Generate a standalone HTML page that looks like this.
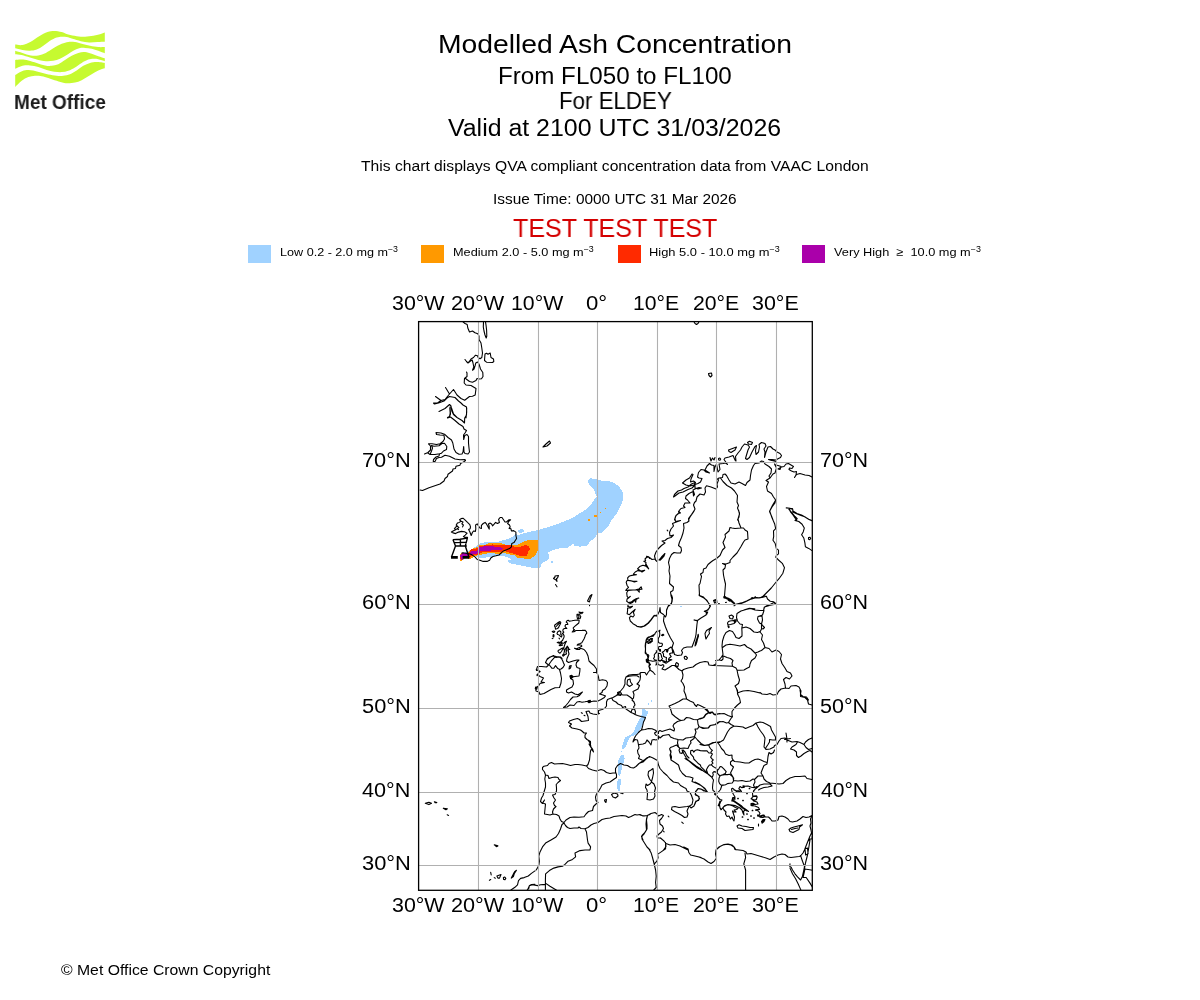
<!DOCTYPE html>
<html lang="en"><head><meta charset="utf-8"><title>Modelled Ash Concentration</title>
<style>
html,body{margin:0;padding:0;background:#fff;}
body{width:1200px;height:1000px;position:relative;overflow:hidden;font-family:"Liberation Sans",sans-serif;}
.t{position:absolute;white-space:nowrap;line-height:0;transform-origin:0 0;height:0;will-change:transform;}
.t .sp{font-size:70%;position:relative;top:-0.52em;line-height:0;}
svg{position:absolute;left:0;top:0;}
</style></head>
<body>
<svg width="1200" height="1000" viewBox="0 0 1200 1000">
<defs><clipPath id="fr"><rect x="418.6" y="321.6" width="393.7" height="568.7"/></clipPath></defs>
<g clip-path="url(#fr)">
<path fill="#a0d2ff" shape-rendering="crispEdges" d="M460.0,555.0L473.3,548.3L480.0,543.3L488.3,541.7L498.3,541.7L506.7,539.2L513.3,536.7L515.8,534.2L518.3,535.0L523.3,533.3L530.0,531.7L538.3,530.0L546.7,527.5L555.0,525.0L563.3,521.7L571.7,518.3L578.3,514.2L585.0,510.0L590.0,505.8L593.3,500.8L596.7,496.7L594.2,490.0L590.0,485.8L587.5,480.8L590.0,478.3L596.7,479.2L602.5,480.8L611.7,481.7L618.3,485.8L622.5,491.7L623.0,500.0L620.8,505.8L616.7,513.3L611.7,520.0L608.3,526.7L602.5,532.5L597.5,533.3L595.8,536.7L590.0,541.7L586.7,545.8L580.0,546.7L574.2,545.8L573.3,543.3L568.3,547.5L560.0,548.3L553.3,550.0L548.3,552.5L549.2,558.3L546.7,560.8L541.7,563.3L540.0,568.3L535.0,568.3L526.7,566.7L518.3,565.0L510.0,563.3L507.5,560.8L511.7,559.2L506.7,556.7L498.3,555.8L490.0,556.7L481.7,558.3L473.3,555.8L468.3,556.7L461.7,560.8L460.0,558.3Z"/>
<path fill="#a0d2ff" shape-rendering="crispEdges" d="M518.3,529.7L523.3,529.2L524.2,531.7L520.8,533.3L518.0,532.0Z"/>
<path fill="#a0d2ff" shape-rendering="crispEdges" d="M551.0,561.0L552.7,561.0L552.7,562.7L551.0,562.7Z"/>
<path fill="#ff9900" shape-rendering="crispEdges" d="M587.5,518.8L590.0,518.8L590.0,520.8L587.5,520.8Z"/>
<path fill="#ff9900" shape-rendering="crispEdges" d="M594.2,515.0L597.5,515.0L597.5,517.0L594.2,517.0Z"/>
<path fill="#ff9900" shape-rendering="crispEdges" d="M599.7,511.7L601.0,511.7L601.0,513.0L599.7,513.0Z"/>
<path fill="#ff9900" shape-rendering="crispEdges" d="M604.7,507.8L606.0,507.8L606.0,509.0L604.7,509.0Z"/>
<path fill="#a0d2ff" shape-rendering="crispEdges" d="M680.0,605.5L681.8,605.5L681.8,606.8L680.0,606.8Z"/>
<path fill="#a0d2ff" shape-rendering="crispEdges" d="M642.0,709.0L644.5,709.5L646.0,711.0L648.0,710.5L647.8,714.0L646.0,717.0L644.5,720.0L643.0,724.0L641.0,728.0L638.8,731.5L636.2,734.2L633.2,735.7L630.2,736.8L628.7,739.2L627.2,743.0L625.7,746.5L624.2,748.8L622.0,748.8L622.5,745.0L624.0,740.0L625.5,737.0L628.5,736.0L632.0,734.0L634.5,730.0L636.5,725.0L638.5,721.0L641.0,717.0L642.0,713.0Z"/>
<path fill="#a0d2ff" shape-rendering="crispEdges" d="M650.5,699.5L652.0,699.5L652.0,701.5L651.0,701.5Z"/>
<path fill="#a0d2ff" shape-rendering="crispEdges" d="M648.0,702.5L649.0,702.5L649.0,704.5L648.0,704.5Z"/>
<path fill="#a0d2ff" shape-rendering="crispEdges" d="M620.5,750.8L621.5,750.8L621.5,751.7L620.5,751.7Z"/>
<path fill="#a0d2ff" shape-rendering="crispEdges" d="M622.0,754.5L624.0,754.5L624.5,758.5L623.5,763.0L621.5,765.0L621.5,770.0L620.5,774.0L619.0,776.5L618.0,774.0L618.5,769.0L618.0,764.0L618.5,760.0L620.0,757.0Z"/>
<path fill="#a0d2ff" shape-rendering="crispEdges" d="M618.0,778.5L620.5,778.5L620.8,784.0L620.0,788.0L620.5,791.0L618.5,791.5L617.2,788.5L617.2,783.0Z"/>
<path fill="#ff9900" shape-rendering="crispEdges" d="M467.5,552.8L469.8,550.5L470.9,549.0L475.0,548.2L477.6,546.8L478.8,545.2L485.5,544.9L488.1,543.4L502.0,543.4L505.0,544.6L512.5,544.9L517.0,545.2L520.0,543.8L523.0,541.9L527.5,540.4L530.0,540.0L537.5,540.5L538.3,549.8L535.8,554.8L530.8,558.9L527.5,558.8L522.2,558.4L517.0,557.6L514.8,555.4L510.2,554.6L506.5,553.5L504.2,552.8L500.5,554.2L497.5,554.2L493.8,553.1L487.0,553.5L482.5,554.2L481.0,555.0L475.0,555.8L472.0,558.0L469.8,558.8L463.8,558.0L462.6,560.2L460.8,561.8L459.6,558.8L460.0,555.0L462.2,552.8Z"/>
<path fill="#ff2a00" shape-rendering="crispEdges" d="M468.2,553.1L470.1,550.9L471.2,549.4L478.0,548.1L479.1,546.0L487.0,545.2L493.0,544.4L497.5,545.4L505.0,545.4L511.0,545.4L517.0,547.3L523.0,546.1L525.6,544.9L528.6,546.0L530.1,548.6L528.2,552.0L526.8,555.8L520.0,555.8L515.5,554.2L511.0,553.1L507.2,552.0L504.2,551.1L500.5,552.4L496.0,552.4L490.0,551.9L485.5,552.1L481.0,552.6L479.9,554.2L475.0,554.9L471.2,555.9L469.8,558.0L463.8,557.6L462.6,559.5L461.1,560.6L460.4,558.8L460.4,555.4L462.6,553.4Z"/>
<path fill="#aa00aa" shape-rendering="crispEdges" d="M469.4,555.0L470.9,551.1L478.0,550.4L479.5,547.3L485.5,546.1L493.0,546.1L496.0,547.3L502.8,547.6L503.5,548.8L500.5,549.9L493.0,549.9L490.0,551.0L485.5,550.6L480.2,551.0L479.6,553.3L476.5,553.6L471.2,555.1Z"/>
<path fill="#aa00aa" shape-rendering="crispEdges" d="M460.4,555.4L462.2,553.1L469.0,553.4L469.4,555.0L469.0,556.5L463.0,556.9L462.6,559.1L461.4,560.4L460.6,558.8Z"/>
<path fill="none" stroke="#000" stroke-width="1.1" stroke-linejoin="round" stroke-linecap="round" d="M463.0,321.8L465.0,323.5L467.2,324.5L467.8,328.0L469.5,332.0L472.5,331.0L475.0,332.8L477.8,333.8L479.0,336.0L479.0,339.5L481.0,343.0L481.8,348.0L482.5,353.0L481.8,357.5L480.0,358.8L478.2,357.5L477.5,355.8L475.5,355.2L473.5,357.5L471.0,359.0L469.5,361.2L468.0,363.0L466.5,361.5L465.0,359.5M468.0,363.0L470.5,361.0L472.2,360.0L473.0,363.0L473.8,367.0L472.5,370.2L474.0,369.0L475.0,366.0L475.8,363.0L477.5,362.0L479.0,364.0L480.5,369.0L482.8,372.5L483.0,376.5L481.5,378.8L479.0,379.0L477.0,378.5L476.0,380.5L472.5,382.2L469.5,381.5L466.5,379.2L465.0,378.0L467.0,376.5L467.0,373.0L466.5,372.0M467.0,376.5L464.5,378.5L464.2,383.0L466.0,385.0L471.0,385.5L476.0,388.5L475.2,395.0L472.5,396.2L469.5,396.5L464.7,400.2L461.0,398.5L457.0,395.0L453.5,389.5L449.5,394.0L445.5,387.5M449.5,394.0L447.0,397.0L445.0,399.5L441.0,400.5L435.5,396.5M441.0,400.5L437.5,403.0L433.5,403.0L434.5,404.0L438.5,403.0L444.0,401.0L447.0,398.0L449.5,396.5L455.0,397.5L458.5,401.0L461.0,403.0L463.0,405.0L466.5,407.0L466.7,412.0L466.0,418.0M439.0,411.5L445.0,408.5L449.5,404.5L451.0,406.0L451.8,411.0L453.5,414.5L457.0,417.5M450.0,407.0L450.5,414.0L449.5,416.5L447.5,417.5M485.0,354.0L486.5,353.2L488.0,354.2L490.2,353.0L491.0,357.5L493.5,359.0L493.8,361.5L492.5,362.5L486.5,362.2L484.5,360.5L484.8,356.5ZM483.5,321.8L483.3,327.0L484.0,331.0L485.0,335.0L486.2,338.0L486.8,336.0L486.6,330.0L486.0,325.0L485.5,321.8M466.7,408.0L466.5,415.0L464.7,418.0L464.5,423.0L462.0,420.5L457.0,417.5L453.5,414.0L451.5,408.0M449.8,408.0L450.2,413.0L449.5,416.5L447.5,418.0L450.5,417.0L455.0,420.5L459.0,424.0L463.0,426.5L464.0,429.0L466.5,430.5L465.0,433.0L463.5,435.0L463.7,439.5L464.7,435.5L467.0,434.5L468.5,436.5L468.5,443.0L469.0,448.0L469.5,452.0L468.0,454.0L465.0,453.5L464.0,452.0L463.7,446.5L463.0,452.0L462.0,454.0L459.0,454.2L456.0,452.5L454.0,449.0L452.8,443.0L451.5,440.0L448.0,437.5L444.5,434.2L441.0,433.0L436.0,432.5L436.5,434.5L440.0,435.0L444.0,435.2L444.5,439.0L443.0,441.5L440.0,443.8L436.5,444.5L432.0,443.8L428.5,443.8L430.5,446.0L430.5,450.0L428.0,452.5L424.5,454.0M428.0,453.0L430.0,454.5L435.0,454.5L439.5,453.8L441.5,453.2L443.5,451.0L446.5,449.5L446.8,446.5L444.5,443.2L442.0,443.5L439.0,445.8L434.0,446.2L431.5,445.5L432.5,448.0L431.5,451.0L430.5,453.5M439.5,453.8L439.0,456.0L436.0,457.0L433.5,459.5L433.2,461.5L435.0,461.5L436.5,458.5L439.0,457.5L441.5,457.2L445.0,455.2L449.5,456.2L455.0,459.0L460.0,459.8L465.0,459.5L465.5,460.5L463.5,462.0L460.5,463.5L460.0,465.2L456.0,466.2L455.5,468.5L453.0,469.0L452.5,471.0L448.0,474.2L447.5,476.5L445.0,478.5L444.0,481.0L440.0,484.0L429.0,487.8L422.5,490.5L420.0,490.0M543.0,447.0L546.0,444.0L549.5,441.0L550.5,443.0L547.0,446.0ZM461.9,553.1L463.0,552.8L467.5,553.5L470.9,554.2L472.8,555.4L475.0,556.9L477.2,559.5L479.9,560.2L483.2,561.4L487.0,561.4L489.6,560.2L490.8,558.0L493.0,556.5L496.0,555.8L499.0,555.0L501.2,552.8L503.5,550.9L506.5,549.8L509.5,548.6L511.4,546.8L511.8,543.4L514.0,542.6L515.1,540.8L516.6,538.5L515.9,535.5L515.9,532.1L513.6,530.6L511.4,531.0L511.0,528.8L509.1,528.4L510.2,526.9L509.5,525.0L507.6,523.5L508.8,521.2L510.6,519.8L508.8,519.8L506.5,522.0L505.0,522.0L503.5,519.8L502.0,517.5L500.1,517.5L498.6,519.4L499.4,522.4L497.5,523.5L495.6,522.4L494.1,524.2L492.6,525.8L491.5,523.9L490.0,523.1L488.4,523.9L489.2,526.5L489.2,529.1L488.1,526.9L486.6,524.2L485.1,522.4L483.2,523.5L481.4,525.4L481.4,528.4L479.9,528.0L478.4,525.8L477.2,523.9L475.6,525.0L475.8,528.8L475.4,531.4L473.5,531.0L472.4,532.5L471.2,535.5L469.8,531.8L468.6,529.5L470.1,528.8L470.5,526.9L469.8,524.6L467.5,522.4L465.2,520.1L463.0,518.2L461.1,518.6L459.6,519.8L461.1,521.2L459.2,522.4L457.4,523.1L456.2,525.0L457.4,526.1L455.5,527.2L454.4,528.8L456.2,529.5L454.0,530.6L451.4,532.1L453.2,532.9L455.5,533.6L458.5,532.1L461.5,531.4L464.5,531.8L467.1,533.2L465.2,535.1L463.4,536.6L464.9,537.4L467.5,537.4M461.1,521.2L463.0,522.0L461.9,523.9L463.4,525.0L462.6,526.9M457.4,526.1L458.9,527.6L457.0,528.8L458.5,529.6M555.0,576.0L558.5,575.5L557.5,578.0L556.5,578.5L557.0,581.5L556.0,580.0L553.5,578.5L555.0,577.0ZM555.5,584.5L557.0,586.8M592.0,594.5L591.0,597.0L590.0,599.5L589.5,602.0L587.5,601.0L589.0,598.0L590.0,596.0ZM589.5,605.2L589.6,605.8M547.0,659.5L550.0,657.0L553.5,656.0L556.5,656.5L560.5,657.0L562.0,658.5M655.0,634.0L651.5,636.0L648.0,638.0L646.0,641.0L645.5,646.0L645.5,652.0L647.5,656.0L648.5,660.0M648.0,640.0L651.0,639.0L652.5,641.0L650.0,643.0L647.5,642.5M563.5,663.0L564.5,665.0L563.0,667.5L561.0,669.0L559.5,669.5L560.5,673.0L561.5,678.5L561.0,683.0L559.5,687.5L555.0,687.8L551.0,689.5L547.5,691.5L544.0,693.5L540.0,694.5L539.0,692.0L536.0,691.0L535.5,688.0L538.5,686.0L540.0,683.5L544.5,682.5L541.0,682.0L543.5,678.0L540.0,676.5L537.5,674.5L539.5,671.5L536.5,669.5L537.5,666.5L541.5,666.5L546.5,667.0L548.5,665.0L545.5,662.5L547.5,658.5L550.5,657.0L553.5,655.5L556.0,657.5L559.5,657.0L561.5,658.5L563.0,661.5ZM549.0,664.5L551.8,668.2L553.8,668.3L555.5,665.6L557.8,668.6L559.7,669.5M555.0,656.8L551.2,661.2L549.2,664.0M568.0,650.0L569.0,654.0L567.0,658.5L566.5,661.0L568.5,662.5L573.0,661.0L577.0,660.0L579.0,660.0L576.5,662.5L576.0,665.0L577.0,667.5L580.0,668.5L579.8,671.5L579.0,676.0L575.0,676.5L572.0,677.0L570.5,676.0L570.5,678.5L573.0,680.0L573.5,684.0L572.0,687.0L569.0,688.5L566.5,690.0L566.5,692.0L568.5,693.0L571.5,692.0L575.0,694.0L578.0,694.8L582.5,692.0L579.5,695.5L577.0,696.8L573.0,697.0L570.5,699.5L568.0,703.0L565.5,706.0L563.5,707.5L567.0,707.0L570.0,705.0L574.0,705.5L577.0,702.0L579.5,701.5L582.0,702.2L585.0,701.8L589.0,701.0L589.5,702.0L594.0,701.0L597.5,701.2L601.0,699.5L604.0,697.8L605.5,696.0L603.0,695.0L599.5,694.0L602.0,692.5L602.5,690.5L605.0,689.0L607.0,686.0L607.5,682.5L606.0,680.5L602.5,679.8L599.0,680.5L598.5,677.0L597.5,674.0L596.5,672.5L593.5,672.5L596.5,672.5L596.5,669.0L594.0,665.5L591.0,663.0L589.0,661.0L588.0,656.0L586.5,652.5L584.5,650.0M569.5,666.0L571.2,665.5L570.5,668.0L569.0,669.0ZM581.6,712.8L582.2,713.3M584.0,715.2L585.0,715.7M645.0,672.5L641.0,672.5L639.5,674.0L637.0,674.5L633.0,674.5L629.0,675.0L626.0,677.0L625.0,680.0L625.0,684.0L623.5,687.5L621.0,690.5L619.0,693.0L616.5,695.5L613.0,697.5L610.0,698.5L607.5,699.5L606.5,702.0L606.5,706.0L605.0,708.0L602.0,709.5L598.5,710.5L598.5,713.5L599.5,713.5L596.5,714.5L593.0,714.0L590.0,713.0L589.0,711.0L586.0,711.5L587.0,714.0L588.0,716.5L588.5,720.5L585.0,721.0L581.5,721.5L579.5,719.5L577.5,718.5L573.5,719.5L569.5,721.0L568.5,722.5L571.5,724.0L569.5,726.0L572.0,728.0L577.0,729.0L580.5,730.0L582.5,731.5L584.0,733.0L586.5,733.0L585.0,735.0L585.0,737.5L587.0,739.5L590.5,741.5L590.5,744.0L589.0,744.0L591.0,747.5L593.0,750.0M627.5,680.0L630.0,679.0L630.5,682.0L632.5,684.5L629.5,686.5L627.0,684.5ZM626.0,677.0L629.0,676.2L633.0,675.8L637.0,675.8L639.0,677.0M645.0,558.9L645.6,560.7L643.8,561.2L646.0,562.5L645.6,565.2L648.7,568.8L646.0,566.1L642.9,565.2L639.7,566.6L637.5,568.8L639.7,570.2L642.0,572.0L644.7,570.2L641.1,571.1L637.9,570.6L635.2,572.0L633.4,574.2L636.6,574.7L633.0,575.1L629.4,576.0L627.6,577.8L628.0,580.5L631.6,581.0L634.3,581.9L637.0,581.2L633.0,581.4L629.8,580.5L627.1,580.5L626.2,582.3L627.1,585.5L628.5,587.3L626.7,589.1L625.8,590.4L628.5,590.4L633.0,590.0L637.0,589.7L639.3,592.2L639.1,589.5L642.0,589.1L641.1,586.8L638.8,589.1L635.7,589.8L632.1,590.0L628.5,590.0L626.7,592.7L627.1,596.3L628.5,598.1L630.3,596.3L627.1,599.0L626.7,601.2L628.5,602.6L631.2,602.1L633.9,599.9L636.6,598.5L638.8,598.1L636.1,599.4L635.7,602.1L634.3,599.9L632.5,602.6L630.3,603.5L628.5,604.4L627.6,606.2L629.8,607.1L632.5,606.2L630.3,608.0L627.6,608.0L627.6,610.7L627.1,613.8L629.4,614.7L632.1,612.0L635.2,609.3L633.4,612.5L634.3,615.2L633.0,617.0L630.7,616.1L629.4,617.9L630.3,621.0L633.0,623.7L636.1,625.5L637.0,626.4L641.1,627.1L644.7,626.0L648.3,623.3L651.0,620.1L653.7,616.5L655.0,615.2L656.4,616.1M659.1,559.8L660.9,558.5L662.7,555.8L664.9,553.5L664.0,556.2L661.8,558.5L660.0,560.3ZM646.5,556.2L648.7,556.7L649.6,558.5M568.5,650.0L568.5,649.5L569.8,649.5L568.5,648.8L568.5,647.8L567.2,646.2L565.8,648.2L565.0,650.0L564.2,652.0L563.8,654.0L562.5,655.2L563.2,656.2L565.0,654.5L566.5,654.0L566.0,652.5L566.5,650.5L567.0,648.5L567.2,646.2M564.2,646.5L564.8,644.5L565.5,643.0L566.5,641.2L565.0,642.0L563.8,643.2L561.5,643.0L561.0,641.5L562.5,640.5L563.0,639.2L563.8,637.8L564.2,636.0L563.5,634.5L562.5,633.5L563.8,632.2L562.8,631.0L563.2,629.2L564.5,628.5L566.8,628.5L565.5,627.2L565.0,626.0L565.8,624.5L567.8,624.5L567.5,623.2L566.2,622.0L567.0,620.8L568.2,620.2L569.5,621.2L572.0,620.8L575.0,620.2L578.0,620.0L579.2,620.5L578.8,623.0L577.0,624.5L575.0,626.2L573.2,627.8L573.5,629.2L574.5,629.8L573.0,631.0L572.2,632.0L574.0,631.8L576.0,630.5L579.0,630.5L582.0,630.4L585.0,630.2L586.5,631.8L586.8,633.2L585.5,634.8L584.8,637.0L584.0,639.0L582.8,641.0L581.8,642.8L580.2,643.5L578.0,644.2L577.2,645.2L579.5,644.8L581.5,645.2L581.8,646.2L580.0,647.2L578.2,648.0L577.0,648.8L574.5,648.2L577.0,649.5L579.8,649.5L580.0,648.2L582.0,648.8L584.0,649.5L585.5,651.2M564.2,646.5L563.8,648.5L564.2,650.0M558.2,650.5L560.0,649.5L562.0,648.2L563.5,647.8L562.5,649.5L561.5,651.5L560.0,653.2L558.8,652.5L558.0,651.5ZM557.2,642.5L558.8,642.0L560.0,643.0L561.0,641.5L562.2,642.8L561.5,644.0L562.5,645.2L560.0,645.8L559.2,645.2L560.5,644.5L560.2,643.5L558.5,643.0ZM557.0,633.5L557.8,631.8L559.5,630.8L560.8,631.8L560.8,634.5L562.0,635.2L561.5,637.0L560.0,636.0L559.0,634.8L557.5,634.5ZM559.0,638.2L559.6,638.8M554.8,625.0L556.5,623.8L558.5,622.2L560.0,621.5L560.8,622.5L560.2,624.2L559.2,626.0L558.5,627.8L556.8,628.8L555.5,629.2L555.2,627.2L554.5,626.0ZM556.2,626.5L557.5,625.0L559.5,623.0M552.2,631.5L553.8,631.0L554.8,631.5L554.0,632.5L553.0,632.2ZM553.2,634.5L554.0,635.0L553.8,637.0L553.0,636.5ZM552.2,638.6L553.0,638.3M577.0,614.2L579.0,614.2L580.8,616.5L580.0,618.8L577.5,618.8L577.0,616.5ZM578.0,615.0L579.0,616.5L578.5,618.2M579.0,612.0L581.0,612.5L583.0,612.2L582.0,613.5L580.5,613.8ZM645.0,672.5L646.5,675.0L648.0,672.5L650.0,670.0L649.0,666.5L649.5,663.0L647.0,661.0L646.5,660.0M650.0,670.0L653.0,672.0L655.0,674.5M657.5,660.0L658.0,664.5L661.0,665.5L663.0,664.5L664.0,666.0L662.0,669.0L665.0,670.0L669.0,667.5L672.0,665.5L674.5,665.5L677.0,667.5L679.0,669.5L682.0,671.0L683.5,669.5L688.0,668.0L693.0,667.0L696.0,664.5L700.0,662.5L705.0,661.5L708.0,662.0L709.0,665.0L713.0,665.5L716.0,664.0L716.5,660.0M676.5,662.5L678.5,664.0L678.0,666.5L676.0,666.0L675.5,664.0ZM682.0,671.0L683.0,675.0L682.5,678.5L681.0,681.0L683.0,683.5L684.5,687.0L684.0,691.0L685.5,694.5L686.5,698.5M686.5,699.0L683.0,699.0L679.0,701.5L675.0,703.5L671.5,705.0L669.0,706.0L670.0,707.5L671.0,710.5L672.0,714.0L675.5,717.0L679.0,719.5L681.0,720.5M686.5,699.0L690.0,701.0L693.5,702.5L694.5,704.5L696.5,706.5L697.5,704.5L700.0,705.5L702.0,706.5L705.0,708.0L707.5,710.0L709.0,712.5L712.0,712.0L714.0,714.5L716.5,714.0L720.0,713.5M681.0,720.5L684.0,720.0L686.5,717.5L690.0,718.0L693.5,719.5L697.5,719.8L700.0,718.5L704.0,717.5L706.0,714.5L708.5,713.0L710.0,712.5M697.5,719.8L698.0,724.0L699.0,726.5L697.5,729.0L695.0,729.0L696.0,732.0L694.5,736.5M699.0,726.5L703.0,728.5L708.5,728.0L710.5,725.5L716.0,724.5L720.0,721.5M681.0,720.5L677.5,721.5L674.0,724.0L673.0,726.0L674.5,729.0L674.0,731.0L670.0,729.0L665.0,730.5L662.0,731.5L660.0,730.5L658.5,731.5L658.5,733.5M658.5,736.0L660.0,738.0L663.0,735.5L669.0,734.5L670.5,737.0L674.0,738.5L678.0,739.5L683.0,740.0L686.0,738.0L690.0,737.5L694.5,736.5M641.5,730.0L645.0,729.5L648.5,728.5L652.0,728.8L655.0,730.0L657.0,731.5L654.5,733.0L655.5,735.0L658.5,736.0L658.5,739.0L656.0,740.0L654.0,739.5L652.0,740.0L651.0,745.0L649.0,742.0L647.0,740.0L645.5,743.0L643.0,744.0L639.5,744.5L638.5,745.0L637.5,740.0L635.0,739.5L633.0,742.0L633.5,740.0L635.5,736.0L638.5,732.5L640.0,731.0ZM635.0,714.5L637.5,715.5L641.0,716.5L645.5,717.5L644.5,720.0L643.5,722.0L642.5,726.5L641.5,730.0M638.5,745.0L639.0,748.0L637.5,750.5L638.0,753.5L639.5,756.0L638.5,758.5L642.0,760.0M640.0,673.0L640.5,676.5L640.0,680.0L638.5,682.5L637.0,684.0L639.5,685.5L638.0,689.0L635.0,690.5L633.0,691.5L634.0,694.5L633.5,698.0L632.0,700.0L634.0,702.0L635.0,705.0L633.5,707.0L634.5,709.0L635.5,712.0L635.0,714.5M616.5,695.5L620.0,694.0L623.0,695.0L627.0,695.0L630.0,697.0L632.5,699.0M612.0,698.5L613.0,700.5L616.0,702.0L618.0,704.0L621.5,705.5L622.5,707.5L625.5,706.5L626.0,709.0L629.0,711.0L631.0,712.5L632.0,709.5L634.5,709.0M631.0,712.5L633.5,713.5L635.0,714.5M617.5,692.5L620.0,691.5L621.5,693.5L620.5,695.5L618.0,695.0ZM678.0,739.5L677.5,743.0L678.5,747.0L680.0,748.5L684.0,748.0L688.0,748.5L689.5,745.0L691.0,743.0L690.5,741.0L694.0,738.5L694.5,736.5M694.5,736.5L697.5,740.0L701.0,743.5L704.5,745.5L708.5,745.0L713.0,743.0L716.0,742.0L720.0,742.5M680.0,748.5L679.0,750.0L680.0,753.0L682.0,753.5L683.0,750.0L685.0,752.0L687.0,756.0L689.0,758.0M680.0,748.5L676.5,745.0L673.0,746.5L670.5,747.5L669.5,749.0L671.0,751.0L670.5,754.0L671.5,757.0L671.0,760.0M674.5,520.0L675.5,516.5L678.0,513.5L680.5,513.0L678.5,511.5L681.0,508.5L685.0,507.5L683.5,506.0L685.0,503.0L690.0,503.0L687.5,500.0L685.5,498.5L686.0,496.0L689.0,493.5L693.0,491.5L693.5,496.0L694.5,494.5L693.0,490.0L696.0,488.5L699.0,487.5L701.5,488.0L698.0,489.0L695.0,488.0L695.0,484.5L698.0,483.5L700.5,482.0L702.0,478.5L699.0,478.0L697.5,477.0L698.5,472.5L701.0,469.5L704.0,470.0L706.0,472.0L709.5,473.0L705.0,470.0L707.0,466.0L709.5,463.5L711.5,465.0L714.0,465.5L714.0,471.5L715.0,467.0L716.5,464.0L718.0,472.0L720.0,469.5L719.0,464.0L723.0,463.5L726.0,463.0L727.5,464.5L724.0,459.5L725.0,458.0L729.0,457.0L733.0,455.5L735.0,460.0L736.0,461.0L735.5,456.5L738.0,453.0L740.5,450.0L742.0,447.0L744.5,444.0L748.0,445.0L749.5,447.0L748.0,450.0L746.5,455.0L745.5,458.5L747.0,459.5L749.5,457.5L752.0,452.0L755.0,446.5L756.5,445.5L755.5,450.5L756.0,454.5L758.5,452.0L759.5,447.0L759.0,444.5L761.5,442.5L765.0,443.5L766.0,446.0L764.0,449.0L765.0,452.0L764.5,457.5L766.0,452.0L768.0,447.0L770.5,446.5L773.0,449.0L775.0,450.0M673.5,497.0L674.5,494.5L678.0,491.0L681.5,490.0L684.0,488.5L688.0,487.0L691.5,484.0L695.0,482.5L695.0,485.0L692.0,488.0L688.0,489.5L683.0,492.0L679.0,493.0L675.0,496.0ZM682.5,483.0L686.0,480.0L689.5,478.0L692.0,474.0L693.0,474.5L691.0,479.0L690.5,482.0L693.5,481.0L695.5,482.5L694.0,485.0L690.0,486.0L686.0,485.0ZM728.5,450.0L732.5,448.5L736.5,447.0L735.0,450.0L731.0,452.5L729.0,451.5ZM747.5,442.5L749.5,441.2L752.5,442.5L751.5,444.5L748.5,444.0ZM710.0,457.5L711.0,461.0L712.5,458.0L714.0,460.0L715.0,457.5M718.5,458.5L719.8,458.0L720.7,459.0L720.0,460.3L718.7,460.0ZM688.5,520.0L690.0,517.0L693.5,512.0L695.0,509.0L693.5,505.0L694.5,502.5L696.0,501.0L697.0,497.0L700.0,494.0L704.0,495.0L705.5,492.0L705.0,488.0L706.5,485.8L711.0,487.0L716.0,489.0L717.5,487.0L717.0,484.0L718.5,480.0L717.5,479.0L719.0,478.0L722.5,477.5L723.0,474.5L725.0,474.0L726.5,475.5L729.0,480.0L731.0,483.0L735.0,484.0L739.0,482.0L742.0,483.5L745.5,485.5L747.0,482.5L750.0,480.0L750.5,475.5L751.5,470.0L753.5,465.5L755.0,463.5L759.0,463.0L761.5,461.0L763.5,461.5L765.0,464.0L769.0,466.5L771.5,469.0L771.0,473.0L769.0,476.0L770.0,478.0L773.0,474.0L775.0,473.0M720.5,478.0L723.0,481.5L727.0,485.5L731.5,488.0L734.5,491.0L737.5,495.5L737.0,502.0L738.5,505.5L737.5,508.0L739.5,513.0L739.0,517.0L737.5,520.0M770.0,478.0L766.0,480.5L768.5,482.0L766.5,486.5L767.5,491.0L771.5,493.5L773.5,497.0L775.0,499.0M775.0,503.0L772.0,507.0L769.5,511.5L771.5,516.0L773.0,520.0M768.5,459.5L771.5,460.5L775.0,461.0M775.0,450.0L777.0,452.0L780.0,453.5L781.5,455.5L780.5,457.5L777.5,459.0L776.0,460.0L772.0,459.5L768.5,459.5L772.0,460.5L776.0,461.5M774.5,464.0L775.5,465.0L778.0,465.5L781.0,466.5L780.0,469.5L778.0,469.0L781.5,467.0L784.0,466.5L786.0,464.0L788.5,463.5L791.0,465.0L793.5,466.5L792.0,468.5L789.5,468.0L789.0,469.5L791.5,471.0L794.0,472.0L796.5,471.5L796.0,475.0L794.5,477.5L796.5,474.5L800.0,473.5L805.0,475.0L809.0,475.5L812.0,477.0M775.0,473.0L776.5,468.0L775.0,465.0M775.0,499.0L775.6,500.2L775.0,503.0M786.5,508.0L789.5,508.5L792.5,508.5L793.0,511.0L797.0,513.5L801.5,515.0L805.0,517.0L809.0,519.5L812.5,521.0M789.5,509.0L790.5,512.0L793.0,515.0L795.0,518.0L796.5,520.0M679.5,510.0L678.5,513.5L676.0,515.5L675.0,518.5L675.5,521.5L680.5,520.5L675.0,522.5L672.5,523.5L673.5,526.0L671.0,529.0L669.5,532.5L670.0,536.0L673.5,535.0L671.0,537.5L667.5,538.5L665.0,540.5L662.0,541.0L665.0,543.0L661.5,545.5L658.5,548.5L656.0,552.0L654.5,556.0L655.5,560.0L657.0,561.5L655.0,559.0L652.0,559.5L649.5,557.5L647.0,557.0L645.0,559.0M659.0,560.0L661.5,557.0L664.5,554.0L663.5,556.5L660.5,559.5ZM646.0,564.0L648.5,568.5M667.2,530.2L667.8,530.8M694.5,510.0L691.5,514.5L688.5,518.5L689.0,521.0L687.0,522.5L683.5,523.5L684.0,528.0L683.0,533.0L681.5,537.5L679.5,542.0L678.5,545.5L681.0,547.5L681.5,550.5L680.5,553.0L677.0,553.0L674.0,552.5L671.5,554.5L669.5,558.5L668.5,562.5L669.5,567.0L669.0,571.0L670.0,576.0L669.5,583.5L673.5,587.0L673.0,590.5L670.5,592.0L671.0,595.5L672.0,599.0L671.5,603.5L668.5,605.5L666.5,610.0M738.5,510.0L739.5,514.0L738.0,519.0L739.0,523.0L741.0,528.0M741.0,528.0L735.0,528.5L732.0,528.0L730.0,527.5L729.0,531.0L725.0,534.5L725.5,537.0L723.0,542.5L725.0,547.5L722.5,550.0L720.0,555.5L716.5,558.5L713.0,560.5L711.0,562.0L708.0,564.5L706.0,568.0L703.5,569.0L703.0,572.5L700.5,574.0L701.5,576.5L700.0,583.5L699.0,585.0L699.5,595.5L703.5,597.0L706.5,600.5L709.0,603.5L710.5,606.0L709.0,608.5L707.5,610.0M741.0,528.0L743.5,528.0L745.0,530.0L747.5,531.5L748.0,539.0L745.0,540.0L743.5,542.0L741.0,546.5L737.0,553.0L733.0,557.0L730.0,560.5L730.0,562.5L726.0,564.0L722.5,563.5L725.5,565.0L725.0,568.0L723.0,570.0L723.5,575.0L724.5,580.0L725.5,584.0L725.0,590.0L724.5,596.0L724.0,598.0L728.0,598.5L731.0,600.5L734.0,602.5L735.0,604.5L740.0,604.0L745.0,602.0L750.0,599.5L755.0,598.0L760.0,598.0L765.0,595.0M713.5,600.5L715.5,599.5L716.5,601.5L714.5,602.5ZM718.5,603.5L719.5,603.7M725.5,602.5L726.5,602.2M734.0,605.8L735.0,605.5M775.7,500.0L772.4,505.5L769.7,511.0L771.9,517.6L774.6,523.7L775.7,528.6L773.5,530.8L773.7,536.3L773.0,540.2L775.2,543.5L776.3,548.4L778.5,550.1L778.5,553.9L776.3,555.6L775.7,557.2L778.5,560.0L782.3,563.3L784.5,567.7L782.9,573.2L779.0,578.7L775.7,582.5L771.3,588.0L765.8,593.5L762.0,597.4M735.0,604.5L741.6,602.9L747.1,600.7L751.5,598.5L754.8,597.4L758.7,597.7L762.0,597.4L766.4,596.3L767.5,599.0L770.2,601.2L773.5,601.8L776.3,604.0L774.1,604.5L770.2,605.1L766.9,605.6L764.2,607.3L763.6,610.0M743.8,610.0L749.3,608.4L754.8,608.9M786.2,507.9L790.0,508.3L792.8,509.4L792.8,512.1L796.6,513.8L801.0,515.4L805.4,517.1L808.7,519.3L812.0,520.4M788.9,509.4L792.2,513.2L795.0,516.5L797.2,518.7L795.0,520.4L798.8,521.5L802.1,524.2L804.3,528.1L803.2,531.9L801.6,534.7L803.8,538.0L804.9,542.9L805.4,546.8L808.7,548.4L812.0,550.6M808.5,537.6L810.0,537.2L810.7,538.5L809.8,539.6L808.5,539.2ZM694.0,321.8L695.0,323.5L696.5,324.5L698.0,323.5L699.0,321.8M708.5,373.5L711.5,373.0L712.0,375.5L710.5,377.0L709.0,375.5ZM640.0,627.0L644.0,626.0L647.5,623.5L651.0,619.5L654.0,615.5L656.0,616.0L658.0,614.0L659.5,611.0L660.0,607.5L660.5,612.5L663.5,614.5L665.5,617.0L666.5,614.5L666.5,610.5L668.0,606.5L670.0,605.0L672.0,602.0L672.5,598.0L671.5,595.0M664.5,615.5L664.0,616.5L663.5,621.0L665.5,627.0L668.0,633.0L670.5,638.0L673.5,643.0L672.5,646.0L672.0,648.0L673.5,651.0L674.5,654.5L677.5,655.5L681.5,655.0L682.5,652.5L681.5,650.5L683.5,648.0L687.0,647.0L692.0,647.0L693.5,643.0L695.0,639.0L696.0,634.5L696.5,629.0L697.0,624.0L697.5,621.0L694.0,620.0L697.5,620.5L701.0,618.0L706.0,615.0L707.0,612.0L704.5,611.5L708.0,610.0L710.0,606.5L709.0,604.0L707.0,600.5L704.0,598.0L700.0,596.0L699.0,595.0M711.5,627.5L709.0,629.0L706.5,630.5L705.0,633.5L705.5,637.0L706.0,639.0L708.0,635.5L709.5,633.5L709.0,631.0ZM715.5,660.5L719.0,660.0L721.5,657.0L723.0,654.5L722.5,650.5L722.0,646.0L722.5,641.0L724.0,636.0L726.0,632.5L729.5,630.5L732.5,631.5L734.5,634.5L736.0,637.5L739.0,638.5L742.0,636.0L742.0,632.0L741.8,628.0L742.5,624.5L740.0,624.0L737.5,621.0L736.5,617.5L737.0,613.5L741.0,611.0L746.0,609.5L750.5,608.5L755.0,610.0L760.0,610.5M721.5,657.0L723.0,656.0L723.0,659.0L721.5,660.5L719.5,660.0M728.5,621.5L730.0,621.0L733.5,620.5L736.0,621.5L734.0,623.5L730.5,624.5L728.0,625.0L727.5,623.0ZM729.0,616.0L731.5,615.0L733.5,616.5L732.5,619.0L730.0,618.5ZM728.2,626.8L728.8,627.4M713.5,665.5L720.0,665.8L732.5,666.2L732.0,663.0L733.0,660.5L730.5,658.5L727.0,657.5L723.5,656.0M722.5,647.5L726.0,645.0L730.0,644.2L735.0,645.0L740.0,646.0L744.5,644.5L747.0,647.0L751.0,649.0L755.0,653.0L756.5,655.0L755.0,658.0L751.5,660.5L750.0,664.0L749.5,667.0L746.5,668.5L744.0,670.0L740.0,670.2L737.0,670.0L736.0,668.0L732.5,666.2M742.0,628.0L746.0,627.0L750.0,628.5L754.0,632.0L757.5,632.5L760.0,631.5M755.0,653.0L758.0,652.0L760.0,651.0M737.0,670.0L738.0,675.0L739.5,680.0L738.5,683.5L735.0,686.0L736.5,688.5L737.5,692.0L738.0,695.0M723.5,597.0L727.0,598.5L730.0,600.0L732.0,602.0L734.5,604.0M725.0,596.5L728.5,599.5L731.5,600.5M714.0,601.0L716.5,599.5L717.0,602.5L714.5,603.0ZM760.0,610.5L763.5,610.5L764.5,607.0L769.5,605.5L771.0,604.0L774.0,602.5L776.0,604.5M764.0,610.5L762.5,615.0L758.0,616.5M758.0,616.5L762.0,616.0L762.5,620.0L761.5,624.0L759.5,623.0L757.5,619.0ZM761.5,624.0L763.0,626.0L764.5,627.5L763.0,629.0L761.5,628.5ZM761.5,629.0L760.0,632.0L762.5,635.0L761.5,639.5L763.5,643.0L765.0,647.5M760.0,651.0L761.5,650.5L765.0,647.5M765.0,647.5L769.0,648.5L772.0,652.0L776.0,650.0L779.0,651.5L781.5,654.5L780.5,659.0L782.0,663.5L785.0,668.0L787.0,671.5L790.5,673.0L792.0,676.0L789.5,679.0L786.0,677.5L783.5,679.5L785.0,684.0L785.5,688.0M760.0,692.5L762.0,694.0L767.0,694.5L770.0,693.5L773.0,695.0L777.0,694.5L778.5,691.5L781.0,689.0L785.5,688.0L789.0,688.5L791.0,686.0L796.0,685.5L799.0,687.0L801.0,691.0L800.5,694.5L803.0,696.5L806.5,697.0L808.5,700.0M660.0,630.2L658.8,631.0L656.8,631.2L655.5,632.8L654.2,634.8L653.2,636.2L650.8,636.5L648.5,637.0L647.0,638.2L646.0,640.2L646.2,642.0L645.5,642.8L645.2,646.0L645.5,649.0L645.2,653.0L646.2,654.0L647.8,654.5L648.8,655.5L648.5,657.5L647.2,659.0L646.2,660.0L646.5,662.0L648.8,663.0L650.5,664.5L648.8,666.2L650.0,667.5L650.2,670.0M646.2,659.5L647.5,660.0L648.2,661.2L647.0,662.2ZM646.2,642.0L647.5,641.5L649.2,641.0L650.0,639.2L651.0,638.2L652.5,638.5L652.2,640.0L651.8,641.2L650.8,641.0L649.8,642.2L648.5,643.5L647.2,642.5ZM660.0,630.2L659.5,631.5L659.8,634.0L659.5,636.5L658.5,638.0L658.2,640.0L658.5,642.5L660.0,643.2L662.0,643.2L662.5,644.8L661.5,646.5L659.5,646.5L658.2,647.2L658.5,649.0L657.2,651.0L656.2,650.8L656.8,652.0L655.2,653.5L654.2,655.0L654.5,657.0L653.5,658.5L654.8,660.0L656.2,660.0L656.5,661.0L655.0,661.0L652.5,661.2L650.8,660.8L649.0,660.8L647.5,661.0M661.5,635.2L663.0,634.2L663.8,635.0L662.5,635.8ZM659.5,649.2L660.5,649.5L660.5,651.2L659.5,651.0ZM658.2,653.2L660.5,653.5L661.2,655.0L661.8,657.5L662.5,658.5L661.2,660.0L660.2,661.2L658.8,660.5L658.2,659.0L658.8,658.0ZM662.2,652.2L664.0,651.2L665.2,649.5L667.0,649.5L668.0,650.5L667.2,652.2L666.2,651.0L668.8,648.5L671.0,647.0L672.0,648.5L672.5,651.0L672.8,653.0L671.2,653.0L669.5,653.8L670.2,655.2L671.2,656.5L670.0,657.5L668.8,658.5L668.5,660.0L670.5,659.5L671.8,659.8L670.0,660.5L668.0,661.8L666.5,661.5L666.2,659.5L666.5,657.5L664.8,657.0L663.5,656.2L663.5,654.0L662.8,652.8ZM662.8,661.8L664.5,662.5L666.0,663.2L667.0,662.5L668.2,661.8M658.0,660.0L660.0,660.5L662.0,660.2L664.0,661.0L665.5,661.8M656.2,662.5L656.5,664.5L655.8,665.0M698.2,634.2L697.5,637.0L696.5,640.0L695.5,643.0L695.0,646.0L695.8,645.0L696.8,642.0L697.5,639.0L698.5,636.0ZM684.5,656.5L685.8,656.2L687.5,658.0L686.5,659.5L684.8,659.0L684.2,657.5ZM737.5,690.0L737.5,694.0L739.5,698.0L740.5,702.5L737.5,705.0L734.5,708.0L732.0,711.5L732.0,715.0L732.5,717.0M738.5,692.5L743.0,691.0L748.0,690.5L754.0,691.5L760.0,693.0M800.0,690.0L800.5,693.0L800.5,696.5L805.0,697.5L807.5,700.0L808.5,704.0L812.0,705.0M705.0,709.0L708.0,711.5L710.0,713.5L712.5,712.0L715.0,715.0L718.0,714.0L724.0,713.5L728.0,715.5L732.0,717.0M700.0,719.0L703.0,718.0L705.5,714.5L708.5,712.5M732.0,717.0L730.0,720.0L728.5,722.5M700.0,727.0L704.0,728.0L708.0,728.0L710.0,725.5L715.0,724.5L718.5,722.0L723.0,721.5L726.5,723.0L728.5,722.5L731.0,724.5L734.0,726.0L739.0,726.5L743.0,727.0L745.5,728.5L749.0,727.0L753.0,725.5L756.0,723.0L760.0,722.0L763.0,722.5L767.0,724.5L770.5,726.5L771.5,730.0L773.5,733.5L775.5,737.0L775.5,740.0L772.5,740.0L769.5,739.5L769.5,742.0L768.0,744.5L766.0,747.5L765.5,749.0M756.0,723.0L758.0,727.0L760.5,731.0L763.5,735.0L765.0,738.0L764.5,743.0L764.0,747.0L766.0,749.5L770.0,749.0L774.0,747.0L774.5,745.5L777.0,744.5M777.0,744.5L779.0,741.0L781.0,738.5L785.0,738.0L787.0,740.0L792.0,742.0L797.0,741.5L800.0,742.5L804.0,744.5L805.5,742.0L808.5,739.5L812.0,738.0M786.0,733.0L786.8,738.0L787.0,742.0M784.5,739.5L790.5,738.5M797.5,742.0L796.0,744.5L792.0,747.0L790.5,749.0L794.0,750.0L796.5,752.0L796.5,755.5L798.5,757.5L801.0,756.0L804.0,753.5L807.5,751.5L810.0,750.5L812.0,752.0M804.0,744.5L806.0,747.5L808.5,749.5L812.0,748.5M734.0,726.0L730.0,728.5L727.5,732.0L725.5,736.0L723.5,740.0L721.0,741.5L717.5,742.5L713.0,742.5L709.0,744.5L704.0,745.5L700.0,744.5M717.5,742.5L719.5,745.0L721.5,748.5L724.0,751.0L725.5,754.0L729.0,755.5L732.0,755.0L732.0,758.0L733.0,760.0L734.5,761.5L740.0,762.0L745.0,763.0L749.0,763.0L752.0,761.0L755.0,759.5L758.0,759.0L761.0,760.0L764.0,761.5L767.0,762.5M774.5,750.0L773.5,752.5L771.0,754.0L769.0,752.5L768.0,756.5L767.5,761.0L767.0,764.0L764.0,765.5L762.5,769.0L761.0,773.0L763.0,776.0L764.0,779.0L766.5,781.5L770.0,783.0L775.0,783.5L779.0,784.0L783.0,783.5L786.0,780.5L790.0,778.0L795.0,776.5L800.0,776.5L805.0,776.0L807.0,778.5L812.0,779.5M733.0,760.0L730.5,762.0L730.5,764.5L733.5,767.0L732.0,770.0L730.5,773.0L733.0,777.0L733.5,780.5L738.0,781.0L742.0,780.5L746.0,781.5L750.0,781.0L753.0,779.0L754.5,779.5L758.0,776.0L761.0,776.0L763.0,776.0M754.5,779.5L755.0,782.0L753.5,785.0L754.5,787.5M756.0,788.5L760.0,785.0L764.0,784.0L770.0,784.0L772.0,786.0L768.0,787.0L764.0,787.5L760.0,789.0L758.5,790.0M754.5,787.5L757.0,786.5L755.0,789.5L753.5,791.0M754.5,787.8L751.5,787.2L748.0,786.0L744.5,786.2L742.0,787.8L740.0,786.5L738.8,788.8L740.5,790.0L741.5,791.5L740.0,791.0L739.0,791.8L738.0,790.8L736.8,791.8L735.5,790.5L734.0,789.5L732.5,788.2L731.5,789.0L732.0,791.5L733.5,794.5L735.0,797.0L733.5,799.0L732.0,801.0L735.0,801.5L738.0,803.5L741.0,805.5L743.0,807.5L746.0,809.5L748.5,811.5M732.2,800.5L735.5,802.5L739.0,805.0L742.5,808.0L745.5,810.0M711.5,777.0L713.5,780.0L712.8,784.0L712.5,788.0L713.0,790.5L714.5,791.5L715.0,793.5L716.5,795.0L718.0,797.5L720.0,799.5L722.0,800.0L720.5,802.0L719.5,804.5L720.0,808.0L721.5,809.5L723.0,807.5L725.0,805.5L728.0,804.5L732.0,805.0L735.0,805.5L738.0,807.0L740.0,808.0L742.0,810.0L743.0,813.0L744.0,815.0L743.5,811.5L745.0,810.0L747.0,811.0M714.5,794.0L715.5,795.0M719.0,803.5L719.5,806.0M722.0,785.0L720.5,789.5L718.5,792.0L716.5,793.5M724.0,806.5L727.0,805.0L730.0,805.0L733.0,806.0L735.5,807.5L738.0,808.5L736.5,809.5L734.0,810.0L736.0,812.0L733.5,812.0L732.5,811.0L733.5,814.0L734.5,817.0L734.0,821.0L733.0,819.5L732.0,817.0L730.5,819.0L729.0,816.0L727.0,816.5L725.5,814.0L726.0,812.0L724.0,810.0L723.0,808.0ZM737.7,798.3L738.3,798.3L738.3,798.7L737.7,798.7ZM742.7,800.3L743.3,800.3L743.3,800.7L742.7,800.7ZM746.7,793.3L747.3,793.3L747.3,793.7L746.7,793.7ZM749.2,788.3L749.8,788.3L749.8,788.7L749.2,788.7ZM743.2,786.3L743.8,786.3L743.8,786.7L743.2,786.7ZM752.2,810.3L752.8,810.3L752.8,810.7L752.2,810.7ZM746.7,813.8L747.3,813.8L747.3,814.2L746.7,814.2ZM750.7,815.8L751.3,815.8L751.3,816.2L750.7,816.2ZM753.7,817.8L754.3,817.8L754.3,818.2L753.7,818.2ZM742.2,816.8L742.8,816.8L742.8,817.2L742.2,817.2ZM747.7,819.3L748.3,819.3L748.3,819.7L747.7,819.7ZM755.7,809.8L756.3,809.8L756.3,810.2L755.7,810.2ZM764.0,820.0L763.0,822.0L762.0,823.0L762.5,821.0ZM758.5,824.0L758.5,826.0M737.0,826.0L739.0,824.8L742.0,826.0L746.0,826.5L750.0,827.5L753.5,827.5L753.0,829.5L749.0,830.0L745.0,830.5L742.0,828.5L738.0,828.0ZM754.0,791.0L752.5,793.0L752.8,796.8L755.0,796.2L757.0,796.8L756.5,799.5L754.0,800.0L752.0,799.0L753.5,801.0L757.0,802.0L758.0,804.0L755.0,804.5L751.5,804.0L751.0,805.5L755.0,806.0L758.5,807.5L759.5,809.5L757.0,809.5L755.5,810.0L758.5,811.0L760.0,813.5L759.0,815.0L757.5,816.0L760.0,816.5L764.0,815.0L765.0,816.5L763.0,817.5L760.0,817.0L765.0,817.0L768.5,817.0L770.5,819.0L772.0,821.0L775.0,821.0L778.0,820.0L779.0,816.5L782.0,816.0L785.0,817.0L788.0,819.0L790.0,821.5L792.5,822.0L797.0,821.0L800.0,819.0L803.0,816.5L806.0,817.5L809.0,817.0L812.0,815.5M789.0,829.5L791.0,828.0L794.0,827.0L798.0,826.0L802.5,824.8L799.5,827.0L799.0,829.5L796.0,831.0L793.0,832.5L790.0,831.5ZM791.5,829.5L795.0,828.5L798.0,828.0M812.0,815.5L810.5,819.0L811.0,823.0L810.0,826.0L811.0,830.0L811.5,833.0L810.0,836.0L808.0,841.0L806.0,846.0L804.5,850.0L803.0,853.0L800.5,856.0M811.5,833.0L812.5,835.0L812.0,839.0L810.0,839.0L808.0,841.0M695.0,856.0L699.0,857.0L704.0,859.0L708.0,862.0L711.0,863.5L714.0,861.5L716.5,858.0L715.5,854.0L716.0,850.0L719.0,847.0L723.0,845.0L727.0,844.2L731.0,845.0L734.0,847.0L735.0,849.5L739.0,850.0L743.0,850.5L746.0,852.0L747.0,854.0L751.0,853.5L756.0,855.0L761.0,856.5L766.0,858.0L770.0,859.5L774.0,857.0L778.0,855.0L782.0,854.0L785.0,854.5L788.0,857.0L791.0,857.5L795.0,857.0L799.0,856.5L800.5,856.0M695.0,782.0L699.0,784.0L703.0,787.0L706.0,790.0L707.5,792.0M696.0,791.5L698.5,788.5L701.0,789.0L704.0,791.0M695.0,794.0L698.0,796.0L699.5,798.5L698.5,800.5L696.0,801.0L695.0,804.0M640.0,763.0L643.0,762.0L646.0,759.0L649.5,756.5L653.0,758.0L657.5,760.5L658.5,765.0L660.0,768.5L663.5,772.5L667.0,775.5L670.0,779.0L673.5,782.0L678.5,783.0L680.5,785.5L684.0,787.5L686.0,788.5L687.0,791.0L690.0,792.5L691.5,795.5L693.0,800.0L692.0,804.5L689.5,806.0L691.0,808.0L694.0,806.0L695.5,802.0L699.0,799.5L699.0,796.5L695.5,795.0L695.5,791.5L698.0,788.5L702.0,789.5L705.0,791.0L707.0,792.0L705.0,788.5L701.0,785.5L697.0,783.5L692.0,781.5L693.0,778.0L690.0,777.0L686.0,776.5L682.5,773.5L680.0,770.0L678.5,765.0L675.0,762.5L671.0,760.0L670.0,755.0L671.0,752.5L670.0,750.0M653.0,768.5L653.5,773.0L652.5,778.0L651.5,781.5L649.5,779.0L648.0,775.0L648.5,771.5L651.0,770.0ZM651.5,782.0L654.0,784.0L655.5,788.0L654.5,792.0L655.0,796.0L653.5,799.0L650.0,800.0L647.0,799.5L647.5,794.0L647.0,790.0L645.5,787.5L646.0,784.0L647.5,785.5L650.0,784.0ZM689.5,806.0L687.0,806.5L683.0,807.0L679.0,807.5L675.0,806.5L672.0,807.0L671.5,809.5L674.5,811.5L678.5,813.5L682.0,815.5L684.5,817.5L687.0,817.0L688.0,814.0L687.0,811.0L688.0,808.5ZM668.2,816.2L668.9,816.8M681.8,822.2L683.2,823.4M663.5,831.2L664.1,831.8M640.0,815.0L644.0,816.0L647.5,815.5L651.0,813.5L655.0,812.5L657.0,814.0L658.5,816.0L661.5,814.5L663.5,815.5L661.5,818.5L659.5,820.5L660.0,824.0L662.5,826.0L663.5,828.5L661.5,832.0L659.0,834.0L657.0,836.0L657.5,838.0L660.0,838.0L661.5,838.8L664.0,841.0L666.0,843.5L670.0,845.0L675.0,844.5L680.0,846.0L685.0,848.5L688.0,850.0M660.5,837.8L662.2,839.5M647.5,815.5L646.5,820.0L647.0,825.0L647.0,829.0L644.5,833.0L642.0,835.5L642.0,839.0L644.5,843.0L647.0,847.0L650.0,850.0M665.5,842.5L666.0,846.5L663.5,850.0M717.0,849.0L720.0,846.5L724.0,844.5L728.0,844.0L732.0,845.0L734.5,847.5L736.0,850.0M682.0,750.0L684.0,754.0L686.0,757.5L688.0,760.0L692.0,763.0L696.0,766.0L700.0,768.5L704.0,771.5L708.0,774.0L711.0,776.5M685.0,758.5L689.0,761.0L693.0,764.5L697.5,768.0L702.0,770.5M588.0,740.0L590.0,743.0L591.0,747.0L592.5,749.0L593.5,752.0L591.5,749.0L590.5,751.0L590.0,755.0L589.5,760.0L588.0,764.5L586.5,766.0L582.0,765.0L578.0,764.5L575.0,764.5L570.5,765.5L567.0,764.5L562.5,763.5L558.0,763.8L554.5,764.0L551.5,762.5L549.0,763.5L547.5,765.5L544.0,766.2L542.5,767.5L542.5,769.5L544.5,772.0L545.5,775.0L544.8,779.0L545.5,783.0L545.5,787.0L544.0,792.0L543.0,795.5L541.5,798.0L540.5,801.5L542.5,803.5L544.5,800.0L542.5,803.0L545.5,804.0L545.0,809.0L544.5,814.0L550.0,815.0L553.0,814.0L556.5,814.5L559.0,816.0L560.0,819.0L561.5,821.5L564.0,822.5L566.0,820.0L570.0,817.5L574.0,817.0L579.0,817.2L584.0,816.8L586.0,814.0L588.5,811.5L592.5,810.5L593.5,806.5L596.0,804.0L598.0,802.5L596.0,800.5L595.5,797.0L596.5,794.0L598.5,791.5L600.5,788.0L602.0,785.0L606.0,783.0L610.0,782.0L613.5,779.5L616.5,777.5L616.5,774.5L615.5,772.0L615.5,768.5L617.5,765.5L620.5,763.5L624.0,765.0L627.5,765.5L630.5,767.5L633.5,768.0L636.0,766.5L639.0,763.5L642.0,761.5L645.0,759.5L647.5,757.5L650.0,757.0M545.5,775.0L548.0,775.5L549.0,778.5L552.0,777.5L555.0,777.0L558.0,777.5L559.0,779.5L560.5,780.5L558.0,782.5L556.2,784.5L556.5,788.0L556.5,791.0L555.0,794.5L552.5,795.0L554.0,798.0L555.5,800.0L553.5,803.0L554.5,805.5L556.0,806.5L553.5,809.0L552.5,812.0L553.0,814.0M586.5,766.0L588.5,768.5L592.5,770.0L596.5,771.0L601.0,769.5L604.0,770.5L606.5,772.5L610.0,773.5L613.0,773.0L616.0,773.0M611.5,794.5L614.0,793.0L617.5,794.0L618.0,796.0L615.5,798.0L613.0,797.0ZM620.5,793.0L623.0,793.6M604.5,800.0L606.5,799.5L606.0,802.5L605.0,801.5ZM551.0,840.0L556.0,837.0L558.5,833.5L560.5,829.0L562.0,824.5L564.0,823.0L565.5,825.5L567.5,827.5L570.0,828.5L574.0,828.0L578.0,828.0L579.0,827.0L581.0,828.5L585.0,828.8L588.0,827.5L591.0,825.0L594.0,823.5L598.0,822.5L602.0,819.5L606.0,818.5L610.0,818.0L614.0,816.5L618.0,816.0L622.0,815.5L626.0,816.0L628.5,817.5L631.0,816.5L635.0,814.5L637.0,815.0L640.0,814.5L643.0,816.0L647.0,815.5L650.0,814.5M585.0,828.8L586.5,832.0L587.0,836.0L587.5,840.0M647.5,815.5L646.5,819.0L646.0,824.0L646.5,830.0L644.0,834.0L641.5,836.5L643.0,840.0M425.3,803.2L428.9,802.2L431.5,803.2L428.9,804.6ZM434.4,801.7L436.8,802.6L435.1,802.8ZM443.3,808.3L447.4,808.8L445.9,809.8ZM447.2,814.8L448.6,815.4M494.3,844.9L497.9,845.9L496.4,846.7ZM490.7,872.4L491.2,875.0M489.4,880.3L490.7,879.6M494.3,877.6L495.3,878.2M496.9,876.0L501.0,874.5L499.5,878.1L497.9,878.1ZM503.4,877.6L504.8,877.1L505.8,878.4L505.0,879.8L503.6,879.4ZM516.5,870.3L514.4,873.4L513.4,876.5L511.3,878.1L513.4,873.9L514.9,871.4ZM535.0,870.9L531.4,873.4L528.3,876.0L524.2,877.6L520.6,878.4L518.5,880.6L517.5,884.8L514.9,887.3L511.3,889.7L509.8,891.5M535.0,884.2L531.4,884.6L529.3,885.8L528.8,888.4L527.3,889.9L526.2,892.0M551.0,840.0L545.6,843.1L542.5,846.9L540.0,851.9L538.8,856.2L539.4,861.2L538.8,865.6L536.2,870.0M587.5,840.0L588.1,843.1L590.6,846.9L590.0,850.0L585.0,850.0L580.0,850.6L575.0,853.1L575.6,856.9L572.5,859.4L568.1,861.2L565.0,864.4L562.5,866.2L558.1,866.9L553.8,868.1L549.4,870.6L545.6,873.8L545.4,880.0L545.4,891.2M527.5,890.0L529.4,885.6L532.5,884.8L537.5,885.6L540.6,884.8L545.4,884.4M545.4,883.1L550.0,886.2L556.2,890.0L558.8,891.9M648.8,848.8L651.2,853.1L652.5,857.5L653.8,862.5L654.4,865.0L655.6,870.0L656.2,876.2L655.6,882.5L656.2,887.5L653.8,890.0L652.5,891.9M654.4,863.8L656.9,861.2L658.1,857.5L657.5,854.4L661.2,851.9L665.6,848.8L665.6,843.1M690.8,750.6L692.6,750.3L693.8,752.1L695.0,750.6L697.4,749.7L700.4,750.6L704.0,750.9L707.0,750.9L708.8,753.0L710.9,753.0L712.4,753.9L710.6,757.2L711.8,758.7L713.3,759.9L711.8,761.4L713.0,763.2L711.2,764.7L709.4,765.0L707.6,767.4L706.4,769.8L707.3,772.2L707.6,773.4L705.8,771.6L703.4,769.2L701.0,766.8L700.4,765.0L698.6,763.8L696.2,761.4L693.8,759.0L693.5,757.2L692.0,755.4L690.5,753.6ZM708.8,744.6L709.4,747.0L710.6,748.8L712.4,750.3L711.2,751.5L710.9,753.0M711.2,764.7L712.7,766.2L714.5,767.4L716.0,768.0L717.5,770.4M717.5,770.4L719.0,768.6L720.2,766.5L721.7,766.8L723.8,768.9L726.2,771.6L725.3,773.4L723.2,774.6L721.1,775.2L719.9,776.1L718.4,774.3L717.2,773.1ZM707.6,773.4L708.8,774.9L710.6,776.4L712.4,777.0L713.3,774.6L712.7,772.8L713.9,771.6L715.4,771.9L716.6,772.8L717.5,773.4L719.0,774.9L719.9,776.1M719.9,776.1L721.4,775.2L724.4,774.6L727.4,774.6L729.8,774.3L732.2,776.4L733.7,778.2L733.4,781.2L732.2,783.0L729.8,783.3L727.4,783.6L725.6,784.8L723.2,785.1L721.4,785.4L719.6,783.6L718.7,781.2L719.0,778.2ZM745.0,853.1L745.6,857.5L743.8,863.8L745.6,870.0L745.6,892.5M790.0,863.8L789.8,866.5L791.2,867.2L792.5,870.0L795.0,873.8L797.5,876.9L800.6,880.0L802.5,876.2L803.8,870.0L804.8,865.0M790.0,868.1L792.5,873.8L795.6,878.8L798.1,883.8L800.6,889.4L801.9,892.5M805.0,868.8L803.1,877.5L806.2,877.5L810.0,883.1L813.1,888.1L815.0,891.2M800.6,855.6L802.5,861.2L804.4,866.2M804.4,869.0L808.1,869.5L812.5,870.2M810.0,840.0L808.8,847.5L807.5,855.0L805.6,862.5L804.4,868.8M805.0,848.8L807.5,848.1L808.1,853.8L805.6,855.0ZM683.8,846.9L688.1,849.0L688.8,852.5L690.6,855.0L695.0,856.0L701.2,857.5M753.5,796.0L756.5,795.8L757.2,797.0L756.0,800.0L754.0,800.2L751.0,798.8ZM751.0,803.5L753.0,803.2L754.5,804.0L753.0,805.0L752.0,806.0L751.0,804.8ZM757.5,815.0L760.0,816.0L763.0,815.0L764.5,816.0L762.5,817.5L760.0,817.2ZM761.5,821.5L763.0,819.5L765.0,819.5L764.0,821.5L762.2,823.2ZM720.0,801.0L719.2,803.5L718.2,805.5L719.8,806.2L720.0,808.0L721.0,809.8M732.8,797.5L735.0,797.5L734.8,800.0L731.8,801.0ZM734.0,790.0L736.0,790.8L738.5,790.8L741.0,791.2M743.0,785.8L744.5,786.0L744.2,787.5L743.2,787.2ZM588.0,700.7L590.3,700.3L590.8,702.0L589.0,702.8L587.9,701.9ZM588.5,701.0L590.0,701.3L589.3,702.3ZM570.0,675.7L571.7,675.3L573.3,676.7L571.7,678.0L570.0,677.0ZM536.3,669.3L537.2,670.0L536.5,670.5ZM539.3,671.0L540.1,671.5L539.5,672.0ZM536.9,674.7L537.7,675.2L537.1,675.7ZM535.7,687.0L537.3,687.3L536.7,689.3L535.3,688.7ZM581.3,712.7L582.3,713.3M724.3,597.7L726.7,598.7L729.3,600.0L731.7,601.3L733.3,602.7M726.3,597.5L728.3,598.3L730.7,599.5L732.7,601.3M728.0,599.0L730.0,600.0L730.0,601.3L728.3,600.3ZM751.3,598.3L752.3,597.5M754.3,597.9L755.3,596.7M704.3,611.3L707.0,610.3L708.0,609.3M706.0,612.0L706.7,614.3L707.7,612.0ZM728.0,626.0L729.3,627.0L728.7,627.7ZM734.0,620.0L736.0,619.7L736.0,621.7L734.3,622.0Z"/>
<path fill="none" stroke="#000" stroke-width="1.4" stroke-linejoin="miter" d="M451.4,557.3L455.5,546L452.9,539.4M469,557.3L465.3,546L467.5,537.6M455.1,546H466.8M452.9,539.6L460,539.2L467.5,538.1M460.4,539.2V546M454.4,542.6L466.8,542.3"/><path fill="none" stroke="#000" stroke-width="2.8" d="M451,557.4H457.8M462.6,557.4H469.3"/>
<path fill="none" stroke="#b0b0b0" stroke-width="1.1" d="M478.5,321.6V890.4M538.5,321.6V890.4M597.5,321.6V890.4M657.5,321.6V890.4M716.5,321.6V890.4M776.5,321.6V890.4M418.6,865.5H812.4M418.6,792.5H812.4M418.6,708.5H812.4M418.6,604.5H812.4M418.6,462.5H812.4"/>
</g>
<rect x="418.6" y="321.6" width="393.7" height="568.7" fill="none" stroke="#000" stroke-width="1.3"/>
</svg>
<svg width="1200" height="1000" viewBox="0 0 1200 1000" style="pointer-events:none"><g fill="#c6fa30"><path d="M15.2,44.6C16.4,44.7 19.9,45.5 22.5,45.0C25.1,44.5 28.1,43.1 30.8,41.7C33.6,40.2 36.4,37.8 39.2,36.2C41.9,34.7 45.0,33.0 47.5,32.1C50.0,31.2 51.8,31.0 54.2,31.0C56.5,31.0 59.3,31.5 61.7,32.1C64.0,32.7 65.8,33.9 68.3,34.6C70.8,35.3 73.9,35.9 76.7,36.2C79.4,36.6 82.2,36.7 85.0,36.7C87.8,36.6 90.8,36.2 93.3,35.8C95.8,35.4 98.1,34.7 100.0,34.2C101.9,33.6 104.0,32.8 104.8,32.5L104.8,41.7C103.6,41.7 100.1,41.9 97.5,42.1C94.9,42.2 91.9,42.6 89.2,42.5C86.4,42.4 83.6,41.9 80.8,41.2C78.1,40.6 74.9,39.4 72.5,38.8C70.1,38.1 68.5,37.4 66.7,37.1C64.9,36.7 63.3,36.6 61.7,36.7C60.0,36.7 58.6,36.8 56.7,37.5C54.7,38.2 52.2,39.4 50.0,40.8C47.8,42.2 45.6,44.4 43.3,45.8C41.1,47.3 38.9,48.7 36.7,49.6C34.4,50.4 32.4,50.8 30.0,50.8C27.6,50.9 25.0,50.4 22.5,50.0C20.0,49.6 16.4,48.6 15.2,48.3Z"/><path d="M15.2,50.8C16.4,51.2 19.9,52.2 22.5,52.9C25.1,53.7 28.2,55.0 30.8,55.4C33.5,55.8 35.8,55.8 38.3,55.4C40.8,55.0 43.3,54.1 45.8,52.9C48.3,51.7 50.7,49.9 53.3,48.3C56.0,46.8 59.2,44.8 61.7,43.8C64.2,42.7 66.1,42.2 68.3,41.9C70.6,41.6 72.8,41.8 75.0,42.1C77.2,42.4 79.2,43.1 81.7,43.8C84.2,44.4 87.2,45.3 90.0,45.8C92.8,46.4 95.9,46.9 98.3,47.1C100.8,47.3 103.8,47.1 104.8,47.1L104.8,53.3C103.8,52.9 100.5,51.6 98.3,50.8C96.1,50.1 93.9,49.2 91.7,48.8C89.4,48.3 87.1,48.0 85.0,47.9C82.9,47.8 81.1,47.8 79.2,48.3C77.2,48.8 75.4,49.7 73.3,50.8C71.2,51.9 68.9,53.7 66.7,55.0C64.4,56.3 62.2,57.8 60.0,58.8C57.8,59.7 55.7,60.4 53.3,60.8C51.0,61.2 48.3,61.4 45.8,61.2C43.3,61.1 41.0,60.6 38.3,60.0C35.7,59.4 32.8,58.3 30.0,57.5C27.2,56.7 24.1,55.6 21.7,55.0C19.2,54.4 16.2,54.3 15.2,54.2Z"/><path d="M15.2,60.0C16.2,59.9 19.5,59.5 21.7,59.6C23.9,59.7 25.8,59.9 28.3,60.4C30.8,61.0 33.9,62.1 36.7,62.9C39.4,63.8 42.5,64.9 45.0,65.4C47.5,65.9 49.4,66.0 51.7,65.8C53.9,65.6 56.1,65.1 58.3,64.2C60.6,63.2 62.8,61.4 65.0,60.0C67.2,58.6 69.4,57.0 71.7,55.8C73.9,54.7 76.1,53.5 78.3,52.9C80.6,52.3 82.8,51.9 85.0,52.1C87.2,52.2 89.4,53.1 91.7,53.8C93.9,54.4 96.1,55.5 98.3,56.2C100.5,57.0 103.8,58.0 104.8,58.3L104.8,61.2C103.8,60.9 100.2,59.6 98.3,59.2C96.4,58.8 95.0,58.7 93.3,58.8C91.7,58.8 90.3,58.9 88.3,59.6C86.4,60.3 83.9,61.6 81.7,62.9C79.4,64.2 77.2,66.2 75.0,67.5C72.8,68.8 70.6,70.1 68.3,70.8C66.1,71.6 64.0,71.9 61.7,72.1C59.3,72.2 56.7,72.0 54.2,71.7C51.7,71.3 49.3,70.8 46.7,70.0C44.0,69.2 41.1,67.8 38.3,67.1C35.6,66.3 32.6,65.6 30.0,65.4C27.4,65.2 25.0,65.3 22.5,65.8C20.0,66.4 16.4,68.3 15.2,68.8Z"/><path d="M15.2,75.0C16.1,74.4 18.9,72.5 20.8,71.7C22.8,70.8 24.6,70.2 26.7,70.0C28.8,69.8 31.0,70.0 33.3,70.4C35.7,70.8 38.3,71.8 40.8,72.5C43.3,73.2 45.7,74.0 48.3,74.6C51.0,75.1 54.2,75.6 56.7,75.8C59.2,76.0 61.1,76.1 63.3,75.8C65.6,75.6 67.8,75.1 70.0,74.2C72.2,73.3 74.4,71.8 76.7,70.4C78.9,69.0 81.1,67.1 83.3,65.8C85.6,64.6 87.8,63.5 90.0,62.9C92.2,62.3 94.2,62.1 96.7,62.1C99.1,62.1 103.5,62.8 104.8,62.9L104.8,68.3C103.8,68.7 100.5,69.4 98.3,70.4C96.1,71.4 93.9,72.8 91.7,74.2C89.4,75.5 87.2,77.1 85.0,78.3C82.8,79.6 80.6,80.9 78.3,81.7C76.1,82.4 74.0,82.7 71.7,82.9C69.3,83.1 66.7,83.3 64.2,82.9C61.7,82.6 59.3,81.7 56.7,80.8C54.0,80.0 50.8,78.7 48.3,77.9C45.8,77.2 43.9,76.6 41.7,76.2C39.4,75.9 37.2,75.7 35.0,75.8C32.8,76.0 30.6,76.3 28.3,77.1C26.1,77.9 23.9,79.2 21.7,80.8C19.5,82.5 16.2,86.0 15.2,87.1Z"/></g></svg>
<div style="position:absolute;left:248px;top:245px;width:23px;height:18px;background:#a0d2ff"></div>
<div style="position:absolute;left:421px;top:245px;width:23px;height:18px;background:#ff9900"></div>
<div style="position:absolute;left:618px;top:245px;width:23px;height:18px;background:#ff2a00"></div>
<div style="position:absolute;left:802px;top:245px;width:23px;height:18px;background:#aa00aa"></div>

<div class="t" id="t1" style="left:438.41px;top:44.16px;font-size:26.38px;color:#000;font-weight:normal;transform:scaleX(1.0728);">Modelled Ash Concentration</div>
<div class="t" id="t2" style="left:497.51px;top:76.28px;font-size:23.44px;color:#000;font-weight:normal;transform:scaleX(1.0315);">From FL050 to FL100</div>
<div class="t" id="t3" style="left:558.69px;top:101.28px;font-size:23.44px;color:#000;font-weight:normal;transform:scaleX(0.9512);">For ELDEY</div>
<div class="t" id="t4" style="left:448.31px;top:128.08px;font-size:23.44px;color:#000;font-weight:normal;transform:scaleX(1.0624);">Valid at 2100 UTC 31/03/2026</div>
<div class="t" id="t5" style="left:361.47px;top:165.92px;font-size:14.65px;color:#000;font-weight:normal;transform:scaleX(1.0697);">This chart displays QVA compliant concentration data from VAAC London</div>
<div class="t" id="t6" style="left:492.92px;top:198.67px;font-size:14.65px;color:#000;font-weight:normal;transform:scaleX(1.0506);">Issue Time: 0000 UTC 31 Mar 2026</div>
<div class="t" id="t7" style="left:512.73px;top:227.82px;font-size:26.5px;color:#d40000;font-weight:normal;transform:scaleX(0.9466);">TEST TEST TEST</div>
<div class="t" id="l1" style="left:279.77px;top:252.14px;font-size:11.72px;color:#000;font-weight:normal;transform:scaleX(1.0757);">Low 0.2 - 2.0 mg m<span class="sp">−3</span></div>
<div class="t" id="l2" style="left:452.72px;top:252.14px;font-size:11.72px;color:#000;font-weight:normal;transform:scaleX(1.0844);">Medium 2.0 - 5.0 mg m<span class="sp">−3</span></div>
<div class="t" id="l3" style="left:649.41px;top:252.14px;font-size:11.72px;color:#000;font-weight:normal;transform:scaleX(1.1007);">High 5.0 - 10.0 mg m<span class="sp">−3</span></div>
<div class="t" id="l4" style="left:834.17px;top:252.14px;font-size:11.72px;color:#000;font-weight:normal;transform:scaleX(1.0881);">Very High &nbsp;≥&nbsp; 10.0 mg m<span class="sp">−3</span></div>
<div class="t" id="cp" style="left:61.10px;top:969.92px;font-size:14.65px;color:#000;font-weight:normal;transform:scaleX(1.0765);">© Met Office Crown Copyright</div>
<div class="t" id="mo" style="left:13.61px;top:101.72px;font-size:20.3px;color:#1c1c1c;font-weight:bold;transform:scaleX(0.9369);">Met Office</div>
<div class="t" id="xt-30" style="left:392.23px;top:302.66px;font-size:20.61px;color:#000;font-weight:normal;transform:scaleX(1.0374);">30°W</div>
<div class="t" id="xb-30" style="left:392.23px;top:904.76px;font-size:20.61px;color:#000;font-weight:normal;transform:scaleX(1.0374);">30°W</div>
<div class="t" id="xt-20" style="left:451.24px;top:302.66px;font-size:20.61px;color:#000;font-weight:normal;transform:scaleX(1.0513);">20°W</div>
<div class="t" id="xb-20" style="left:451.24px;top:904.76px;font-size:20.61px;color:#000;font-weight:normal;transform:scaleX(1.0513);">20°W</div>
<div class="t" id="xt-10" style="left:510.60px;top:302.66px;font-size:20.61px;color:#000;font-weight:normal;transform:scaleX(1.0335);">10°W</div>
<div class="t" id="xb-10" style="left:510.60px;top:904.76px;font-size:20.61px;color:#000;font-weight:normal;transform:scaleX(1.0335);">10°W</div>
<div class="t" id="xt0" style="left:585.66px;top:302.66px;font-size:20.61px;color:#000;font-weight:normal;transform:scaleX(1.0755);">0°</div>
<div class="t" id="xb0" style="left:585.66px;top:904.76px;font-size:20.61px;color:#000;font-weight:normal;transform:scaleX(1.0755);">0°</div>
<div class="t" id="xt10" style="left:632.85px;top:302.66px;font-size:20.61px;color:#000;font-weight:normal;transform:scaleX(1.0283);">10°E</div>
<div class="t" id="xb10" style="left:632.85px;top:904.76px;font-size:20.61px;color:#000;font-weight:normal;transform:scaleX(1.0283);">10°E</div>
<div class="t" id="xt20" style="left:692.53px;top:302.66px;font-size:20.61px;color:#000;font-weight:normal;transform:scaleX(1.0305);">20°E</div>
<div class="t" id="xb20" style="left:692.53px;top:904.76px;font-size:20.61px;color:#000;font-weight:normal;transform:scaleX(1.0305);">20°E</div>
<div class="t" id="xt30" style="left:752.45px;top:302.66px;font-size:20.61px;color:#000;font-weight:normal;transform:scaleX(1.0406);">30°E</div>
<div class="t" id="xb30" style="left:752.45px;top:904.76px;font-size:20.61px;color:#000;font-weight:normal;transform:scaleX(1.0406);">30°E</div>
<div class="t" id="yl30" style="left:362.04px;top:862.66px;font-size:20.61px;color:#000;font-weight:normal;transform:scaleX(1.0620);">30°N</div>
<div class="t" id="yr30" style="left:820.31px;top:862.66px;font-size:20.61px;color:#000;font-weight:normal;transform:scaleX(1.0430);">30°N</div>
<div class="t" id="yl40" style="left:362.38px;top:789.76px;font-size:20.61px;color:#000;font-weight:normal;transform:scaleX(1.0491);">40°N</div>
<div class="t" id="yr40" style="left:820.63px;top:789.76px;font-size:20.61px;color:#000;font-weight:normal;transform:scaleX(1.0225);">40°N</div>
<div class="t" id="yl50" style="left:361.55px;top:705.76px;font-size:20.61px;color:#000;font-weight:normal;transform:scaleX(1.0589);">50°N</div>
<div class="t" id="yr50" style="left:820.09px;top:705.76px;font-size:20.61px;color:#000;font-weight:normal;transform:scaleX(1.0428);">50°N</div>
<div class="t" id="yl60" style="left:361.60px;top:601.66px;font-size:20.61px;color:#000;font-weight:normal;transform:scaleX(1.0590);">60°N</div>
<div class="t" id="yr60" style="left:820.17px;top:601.66px;font-size:20.61px;color:#000;font-weight:normal;transform:scaleX(1.0426);">60°N</div>
<div class="t" id="yl70" style="left:361.94px;top:459.66px;font-size:20.61px;color:#000;font-weight:normal;transform:scaleX(1.0578);">70°N</div>
<div class="t" id="yr70" style="left:820.47px;top:459.66px;font-size:20.61px;color:#000;font-weight:normal;transform:scaleX(1.0441);">70°N</div>
</body></html>
